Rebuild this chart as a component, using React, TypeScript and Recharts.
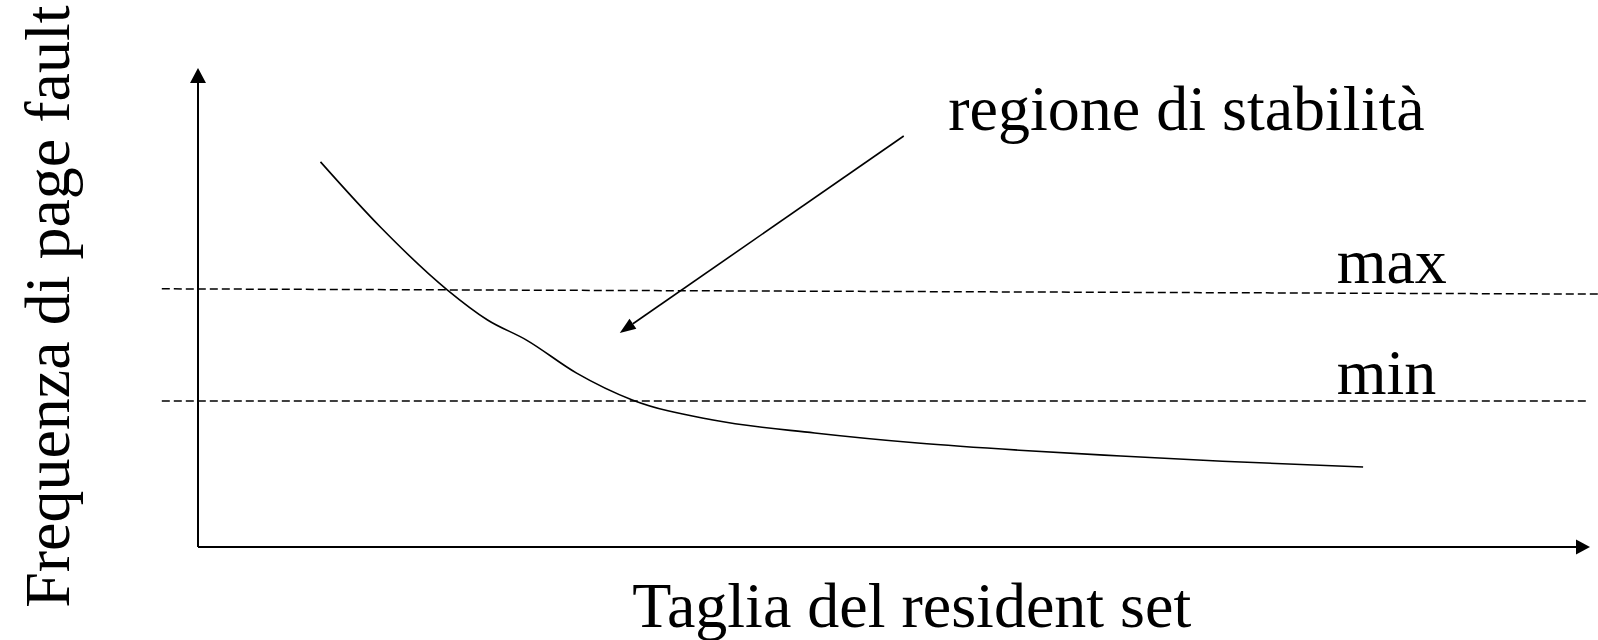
import {
  LineChart,
  Line,
  XAxis,
  YAxis,
  ReferenceLine,
  ReferenceDot,
} from "recharts";

// resident set size (x) vs page fault frequency (y), both on a 0..100 scale
const residentSetSize = [8.8, 13.1, 17.9, 20.8, 23.6, 27.2, 31.2, 37.0, 44.3, 51.7, 59.0, 66.3, 73.6, 83.7];
const pageFaultRate = [80.4, 66.8, 53.7, 47.4, 43.2, 36.3, 30.7, 26.5, 23.8, 21.7, 20.2, 19.0, 17.9, 16.7];

// dashed thresholds: [x start, x end] and [y start, y end]
const maxSpanX = [-2.6, 100.6];
const maxLevel = [53.9, 52.8];
const minSpanX = [-2.6, 99.9];
const minLevel = [30.5, 30.5];

// annotation arrow, from -> to
const arrowFrom = { x: 50.7, y: 85.8 };
const arrowTo = { x: 30.3, y: 44.7 };

const annotations = [
  { x: 53.9, y: 87.1, text: "regione di stabilità" },
  { x: 81.8, y: 55.1, text: "max" },
  { x: 81.8, y: 31.9, text: "min" },
];

// axis titles, anchored in data space relative to the origin
const xTitle = { x: 31.2, y: -16.8, text: "Taglia del resident set" };
const yTitle = { x: -9.3, y: -12.7, text: "Frequenza di page fault" };

const data = residentSetSize.map((x, i) => ({ x, f: pageFaultRate[i] }));

const FONT = "'Liberation Serif', 'Times New Roman', serif";

function arrowLine(headLen: number, halfW: number, width: number) {
  return (p: any) => {
    const { x1, y1, x2, y2 } = p;
    const dx = x2 - x1;
    const dy = y2 - y1;
    const len = Math.hypot(dx, dy) || 1;
    const ux = dx / len;
    const uy = dy / len;
    const bx = x2 - ux * headLen;
    const by = y2 - uy * headLen;
    const pts = `${x2},${y2} ${bx - uy * halfW},${by + ux * halfW} ${bx + uy * halfW},${by - ux * halfW}`;
    return (
      <g>
        <line x1={x1} y1={y1} x2={bx} y2={by} stroke="#000" strokeWidth={width} />
        <polygon points={pts} fill="#000" />
      </g>
    );
  };
}

export default function App() {
  return (
    <div style={{ width: 1598, height: 640, background: "#fff" }}>
      <style>{"body{margin:0}"}</style>
      <LineChart
        width={1598}
        height={640}
        data={data}
        margin={{ top: 68, right: 8, bottom: 93, left: 198 }}
      >
        <XAxis
          dataKey="x"
          type="number"
          domain={[0, 100]}
          height={0}
          axisLine={false}
          tick={false}
          tickLine={false}
        />
        <YAxis
          type="number"
          domain={[0, 100]}
          width={0}
          axisLine={false}
          tick={false}
          tickLine={false}
        />

        {/* axes with arrowheads */}
        <ReferenceLine
          segment={[{ x: 0, y: 0 }, { x: 0, y: 100 }]}
          ifOverflow="visible"
          shape={arrowLine(15, 8, 2)}
        />
        <ReferenceLine
          segment={[{ x: 0, y: 0 }, { x: 100, y: 0 }]}
          ifOverflow="visible"
          shape={arrowLine(14, 7.5, 2)}
        />

        <ReferenceLine
          segment={[{ x: maxSpanX[0], y: maxLevel[0] }, { x: maxSpanX[1], y: maxLevel[1] }]}
          ifOverflow="visible"
          stroke="#000"
          strokeWidth={1.5}
          strokeDasharray="8 4"
        />
        <ReferenceLine
          segment={[{ x: minSpanX[0], y: minLevel[0] }, { x: minSpanX[1], y: minLevel[1] }]}
          ifOverflow="visible"
          stroke="#000"
          strokeWidth={1.5}
          strokeDasharray="8 4"
        />

        <ReferenceLine
          segment={[arrowFrom, arrowTo]}
          ifOverflow="visible"
          shape={arrowLine(16, 6, 1.6)}
        />

        {annotations.map((a) => (
          <ReferenceDot
            key={a.text}
            x={a.x}
            y={a.y}
            ifOverflow="visible"
            shape={(p: any) => (
              <text x={p.cx} y={p.cy} fontFamily={FONT} fontSize={64} fill="#000">
                {a.text}
              </text>
            )}
          />
        ))}

        <ReferenceDot
          x={xTitle.x}
          y={xTitle.y}
          ifOverflow="visible"
          shape={(p: any) => (
            <text x={p.cx} y={p.cy} fontFamily={FONT} fontSize={64} fill="#000">
              {xTitle.text}
            </text>
          )}
        />
        <ReferenceDot
          x={yTitle.x}
          y={yTitle.y}
          ifOverflow="visible"
          shape={(p: any) => (
            <text
              x={p.cx}
              y={p.cy}
              transform={`rotate(-90 ${p.cx} ${p.cy})`}
              fontFamily={FONT}
              fontSize={64}
              fill="#000"
            >
              {yTitle.text}
            </text>
          )}
        />

        <Line
          dataKey="f"
          type="monotone"
          stroke="#000"
          strokeWidth={1.6}
          dot={false}
          activeDot={false}
          isAnimationActive={false}
        />
      </LineChart>
    </div>
  );
}
